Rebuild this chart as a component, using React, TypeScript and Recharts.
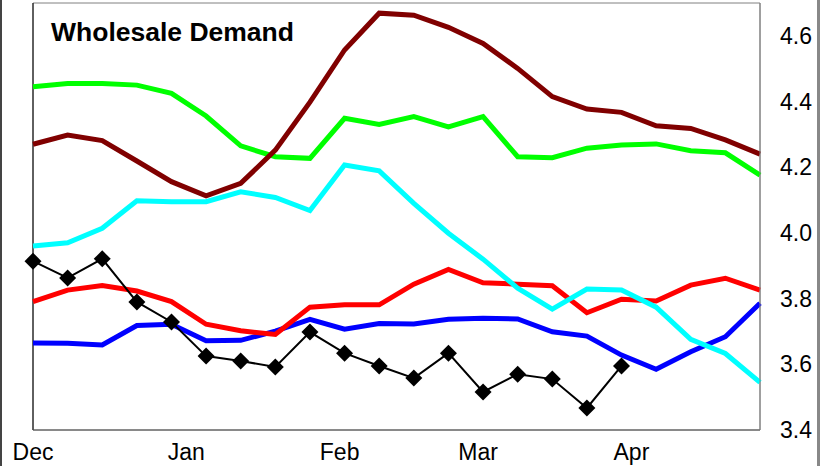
import React from 'react';
import { LineChart, Line, XAxis, YAxis, ReferenceArea, ReferenceLine } from 'recharts';

// weekly observations, starting first week of December
const weeks = Array.from({ length: 22 }, (_, i) => i);

const monthLabels = ['Dec', 'Jan', 'Feb', 'Mar', 'Apr'];
const monthStartDays = [0, 31, 62, 90, 121];

const yTicks = [3.4, 3.6, 3.8, 4.0, 4.2, 4.4, 4.6];

const darkRed = [4.27, 4.298, 4.281, 4.219, 4.156, 4.113, 4.151, 4.252, 4.398, 4.557, 4.669, 4.663, 4.626, 4.577, 4.501, 4.415, 4.377, 4.367, 4.326, 4.318, 4.283, 4.24];
const green = [4.445, 4.455, 4.455, 4.45, 4.425, 4.356, 4.265, 4.232, 4.227, 4.349, 4.33, 4.354, 4.323, 4.354, 4.232, 4.229, 4.258, 4.268, 4.271, 4.25, 4.244, 4.176];
const cyan = [3.96, 3.97, 4.014, 4.098, 4.095, 4.095, 4.125, 4.108, 4.068, 4.207, 4.189, 4.09, 3.999, 3.92, 3.832, 3.768, 3.829, 3.826, 3.774, 3.676, 3.633, 3.545];
const red = [3.791, 3.826, 3.84, 3.823, 3.791, 3.722, 3.702, 3.691, 3.774, 3.781, 3.781, 3.844, 3.889, 3.848, 3.844, 3.839, 3.757, 3.798, 3.793, 3.841, 3.862, 3.826];
const blue = [3.665, 3.664, 3.659, 3.718, 3.722, 3.672, 3.673, 3.701, 3.737, 3.707, 3.724, 3.723, 3.737, 3.74, 3.738, 3.699, 3.686, 3.628, 3.585, 3.638, 3.684, 3.786];
const actual = [3.914, 3.863, 3.921, 3.79, 3.729, 3.625, 3.61, 3.592, 3.698, 3.634, 3.595, 3.558, 3.634, 3.516, 3.57, 3.555, 3.467, 3.595];

const data = weeks.map((w, i) => ({
  week: w,
  darkRed: darkRed[i],
  green: green[i],
  cyan: cyan[i],
  red: red[i],
  blue: blue[i],
  actual: i < actual.length ? actual[i] : null,
}));

const xTicks = monthStartDays.map(d => d / 7);
const fmtMonth = (v: number) => {
  const idx = xTicks.findIndex(t => Math.abs(t - v) < 1e-6);
  return idx >= 0 ? monthLabels[idx] : '';
};

const Diamond = (props: any) => {
  const { cx, cy, index } = props;
  if (cx == null || cy == null || props.value == null) return <g key={index} />;
  const s = 8.5;
  return (
    <polygon
      key={index}
      points={`${cx},${cy - s} ${cx + s},${cy} ${cx},${cy + s} ${cx - s},${cy}`}
      fill="#000"
    />
  );
};

const tickStyle = { fill: '#000', fontSize: 23, fontFamily: '"Liberation Sans", Arial, sans-serif' };

export default function App() {
  return (
    <div style={{ position: 'fixed', left: 0, top: 0, width: 826, height: 466, background: '#fff' }}>
      <LineChart width={826} height={466} data={data} margin={{ top: 3, right: 0, bottom: 0, left: 33 }}>
        <XAxis
          dataKey="week"
          type="number"
          domain={[0, 21]}
          ticks={xTicks}
          tickFormatter={fmtMonth}
          tickLine={false}
          axisLine={{ stroke: '#555' }}
          tick={tickStyle}
          tickMargin={8}
          height={36}
          interval={0}
        />
        <YAxis
          orientation="right"
          domain={[3.4, 4.7]}
          ticks={yTicks}
          tickFormatter={(v: number) => v.toFixed(1)}
          tickLine={false}
          axisLine={{ stroke: '#808080' }}
          tick={tickStyle}
          tickMargin={14}
          width={66}
          interval={0}
        />
        <ReferenceArea x1={0} x2={21} y1={3.4} y2={4.7} fill="none" stroke="#808080" strokeWidth={1} />
        <ReferenceLine x={0} stroke="#000" strokeWidth={1} />
        <Line dataKey="blue" stroke="#0000ff" strokeWidth={5} dot={false} isAnimationActive={false} />
        <Line dataKey="red" stroke="#ff0000" strokeWidth={5} dot={false} isAnimationActive={false} />
        <Line dataKey="green" stroke="#00ff00" strokeWidth={5} dot={false} isAnimationActive={false} />
        <Line dataKey="darkRed" stroke="#800000" strokeWidth={5} dot={false} isAnimationActive={false} />
        <Line dataKey="cyan" stroke="#00ffff" strokeWidth={5} dot={false} isAnimationActive={false} />
        <Line dataKey="actual" stroke="#000" strokeWidth={2} dot={Diamond} activeDot={false} isAnimationActive={false} />
      </LineChart>
      <div
        style={{
          position: 'absolute',
          left: 51,
          top: 19,
          fontFamily: '"Liberation Sans", Arial, sans-serif',
          fontWeight: 'bold',
          fontSize: 26.5,
          lineHeight: '26px',
          color: '#000',
          whiteSpace: 'nowrap',
        }}
      >
        Wholesale Demand
      </div>
      <div style={{ position: 'absolute', left: 0, top: 0, width: 2, height: 466, background: '#444' }} />
      <div style={{ position: 'absolute', left: 817, top: 0, width: 3, height: 466, background: '#888' }} />
    </div>
  );
}
